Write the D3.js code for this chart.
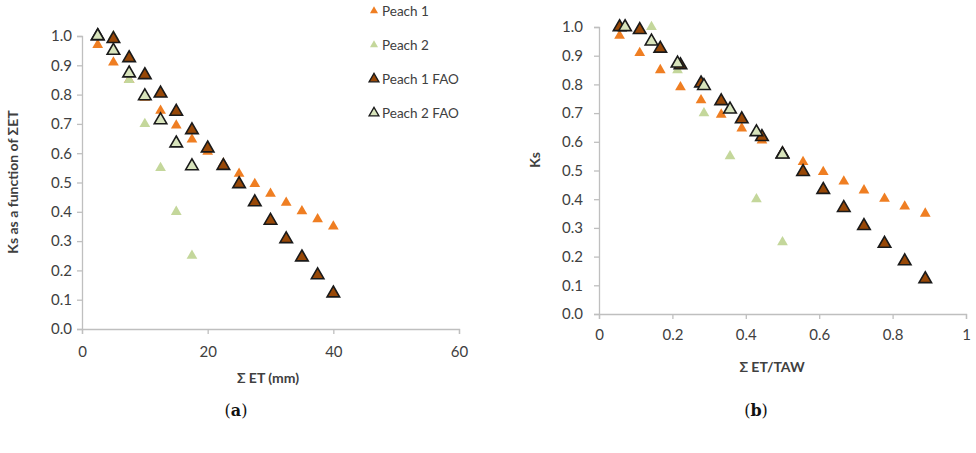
<!DOCTYPE html>
<html>
<head>
<meta charset="utf-8">
<script src="https://cdn.jsdelivr.net/npm/d3@7/dist/d3.min.js"></script>
<style>
  html, body { margin: 0; padding: 0; background: #fff; }
  svg { display: block; }
  text { font-family: Lato, "Open Sans", sans-serif; }
</style>
</head>
<body>
<svg id="chart" width="976" height="453"></svg>
<script>
// ---------- data ----------
const seriesNames = ["Peach 1", "Peach 2", "Peach 1 FAO", "Peach 2 FAO"];

// Panel (a): x = cumulative ET (mm)
const etPeach1 = [2.5, 5, 7.5, 10, 12.5, 15, 17.5, 20, 22.5, 25, 27.5, 30, 32.5, 35, 37.5, 40];
const etPeach2 = [2.5, 5, 7.5, 10, 12.5, 15, 17.5];

// Panel (b): x = cumulative ET / TAW
const ratioPeach1 = [0.056, 0.111, 0.167, 0.222, 0.278, 0.333, 0.389, 0.444, 0.5, 0.556, 0.611, 0.667, 0.722, 0.778, 0.833, 0.889];
const ratioPeach2 = [0.071, 0.143, 0.214, 0.286, 0.357, 0.429, 0.5];

// Ks values
const ksPeach1    = [0.97, 0.91, 0.85, 0.79, 0.745, 0.695, 0.647, 0.605, 0.565, 0.53, 0.495, 0.462, 0.431, 0.402, 0.375, 0.35];
const ksPeach2    = [1.0, 1.0, 0.85, 0.70, 0.55, 0.40, 0.25];
const ksPeach1FAO = [1.0, 0.99, 0.925, 0.867, 0.804, 0.742, 0.679, 0.617, 0.557, 0.495, 0.433, 0.37, 0.307, 0.245, 0.184, 0.122];
const ksPeach2FAO = [1.0, 0.95, 0.873, 0.795, 0.713, 0.634, 0.556];

// tick labels
const yTicks  = [0, 0.1, 0.2, 0.3, 0.4, 0.5, 0.6, 0.7, 0.8, 0.9, 1.0];
const xTicksA = [0, 20, 40, 60];
const xTicksB = [0, 0.2, 0.4, 0.6, 0.8, 1];

// ---------- styles ----------
const styles = {
  "Peach 1":     { fill: "#EF7E22", stroke: "none",    sw: 0,   size: 50 },
  "Peach 2":     { fill: "#C4D79B", stroke: "none",    sw: 0,   size: 50 },
  "Peach 1 FAO": { fill: "#984807", stroke: "#1a1a1a", sw: 1.6, size: 68 },
  "Peach 2 FAO": { fill: "#D8E4BC", stroke: "#1a1a1a", sw: 1.6, size: 68 }
};
const axisColor = "#BFBFBF";
const textColor = "#404040";

const svg = d3.select("#chart");
svg.append("rect").attr("width", 976).attr("height", 453).attr("fill", "#fff");

function zip(xs, ys) { return xs.map((x, i) => ({ x, y: ys[i] })); }

function drawPanel(cfg) {
  const g = svg.append("g");
  const x = d3.scaleLinear().domain(cfg.xDomain).range([cfg.left, cfg.right]);
  const y = d3.scaleLinear().domain([0, 1]).range([cfg.bottom, cfg.top]);

  const yAxis = d3.axisLeft(y).tickValues(yTicks).tickFormat(d3.format(".1f")).tickSize(5).tickPadding(cfg.yPad);
  const ya = g.append("g").attr("transform", `translate(${cfg.left},0)`).call(yAxis);
  const xAxis = d3.axisBottom(x).tickValues(cfg.xTicks).tickFormat(cfg.xFormat).tickSize(5).tickPadding(cfg.xPad);
  const xa = g.append("g").attr("transform", `translate(0,${cfg.bottom})`).call(xAxis);

  [ya, xa].forEach(a => {
    a.select(".domain").attr("stroke", axisColor).attr("stroke-width", 1.3);
    a.selectAll(".tick line").attr("stroke", axisColor).attr("stroke-width", 1.3);
    a.selectAll(".tick text").attr("fill", textColor).style("font-size", "15px").style("font-family", "Lato, 'Open Sans', sans-serif");
  });

  const series = [
    { name: "Peach 1",     data: zip(cfg.x1, ksPeach1) },
    { name: "Peach 2",     data: zip(cfg.x2, ksPeach2) },
    { name: "Peach 1 FAO", data: zip(cfg.x1, ksPeach1FAO) },
    { name: "Peach 2 FAO", data: zip(cfg.x2, ksPeach2FAO) }
  ];
  series.forEach(s => {
    const st = styles[s.name];
    const sym = d3.symbol().type(d3.symbolTriangle).size(st.size);
    g.append("g").selectAll("path").data(s.data).join("path")
      .attr("d", sym)
      .attr("transform", d => `translate(${x(d.x)},${y(d.y)})`)
      .attr("fill", st.fill)
      .attr("stroke", st.stroke)
      .attr("stroke-width", st.sw)
      .attr("stroke-linejoin", "miter");
  });

  g.append("text")
    .attr("x", cfg.xTitleX).attr("y", cfg.xTitleY)
    .attr("text-anchor", "middle").attr("fill", textColor)
    .style("font-size", "14px").style("font-weight", "bold")
    .text(cfg.xTitle);
  g.append("text")
    .attr("transform", `translate(${cfg.yTitleX},${cfg.yTitleY}) rotate(-90)`)
    .attr("text-anchor", "middle").attr("fill", textColor)
    .style("font-size", "14px").style("font-weight", "bold")
    .text(cfg.yTitle);

  const lab = svg.append("text")
    .attr("x", cfg.labelX).attr("y", 416)
    .attr("text-anchor", "middle").attr("fill", "#111")
    .style("font-family", "'DejaVu Serif', 'Liberation Serif', serif")
    .style("font-size", "16px");
  lab.append("tspan").text("(");
  lab.append("tspan").style("font-weight", "bold").text(cfg.label);
  lab.append("tspan").text(")");
}

drawPanel({
  left: 82, right: 459, top: 36, bottom: 329,
  xDomain: [0, 60], xTicks: xTicksA, xFormat: d3.format("d"),
  x1: etPeach1, x2: etPeach2,
  yPad: 5, xPad: 12,
  xTitle: "Σ ET (mm)", xTitleX: 268, xTitleY: 383,
  yTitle: "Ks as a function of ΣET", yTitleX: 18, yTitleY: 182,
  label: "a", labelX: 236
});

drawPanel({
  left: 599, right: 966, top: 27, bottom: 314,
  xDomain: [0, 1], xTicks: xTicksB, xFormat: d => d === 0 || d === 1 ? String(d) : d3.format(".1f")(d),
  x1: ratioPeach1, x2: ratioPeach2,
  yPad: 11, xPad: 10,
  xTitle: "Σ ET/TAW", xTitleX: 772, xTitleY: 372,
  yTitle: "Ks", yTitleX: 540, yTitleY: 160,
  label: "b", labelX: 756
});

// ---------- legend ----------
const legend = svg.append("g");
const legendY = [11, 45, 79, 113];
seriesNames.forEach((name, i) => {
  const st = styles[name];
  const small = st.stroke === "none";
  legend.append("path")
    .attr("d", d3.symbol().type(d3.symbolTriangle).size(small ? 28 : 42)())
    .attr("transform", `translate(374,${legendY[i]})`)
    .attr("fill", st.fill).attr("stroke", st.stroke).attr("stroke-width", small ? 0 : 1.3);
  legend.append("text")
    .attr("x", 382).attr("y", legendY[i]).attr("dy", "0.35em")
    .attr("fill", textColor).style("font-size", "13.5px")
    .text(name);
});
</script>
</body>
</html>
